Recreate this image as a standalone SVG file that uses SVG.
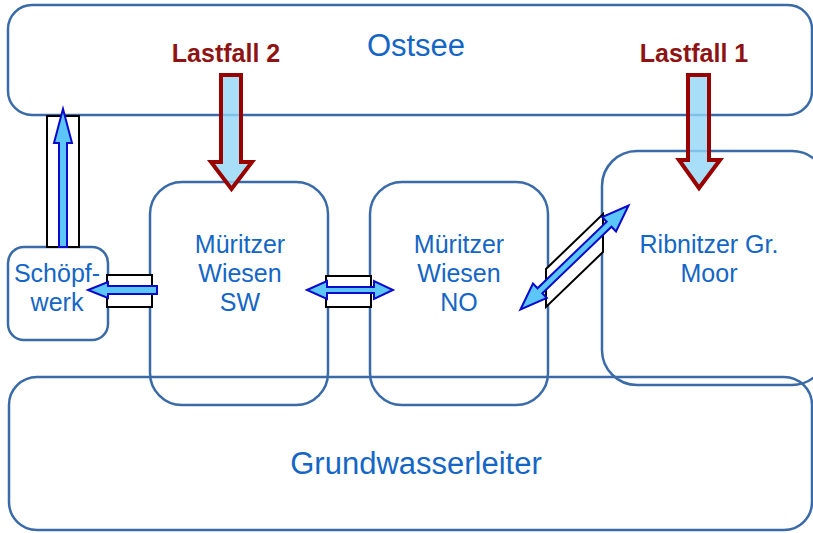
<svg xmlns="http://www.w3.org/2000/svg" width="813" height="533" viewBox="0 0 813 533">
  <style>
    .box { fill: none; stroke: #3A6BA8; stroke-width: 2.5; }
    .lbl { font-family: "Liberation Sans", Arial, sans-serif; fill: #1466C6; text-anchor: middle; }
    .load { font-family: "Liberation Sans", Arial, sans-serif; font-weight: bold; fill: #8E1414; text-anchor: middle; font-size: 25px; }
    .pipe { fill: #FFFFFF; stroke: #000000; stroke-width: 2; }
    .flow { fill: #5CC6F8; stroke: #0A0ACD; stroke-width: 2; stroke-linejoin: miter; }
    .loadArrow { fill: #94D6F8; fill-opacity: 0.8; stroke: #990000; stroke-width: 4; stroke-linejoin: miter; }
  </style>
  <rect width="813" height="533" fill="#FFFFFF"/>

  <!-- water bodies and storage compartments -->
  <g id="ostsee">
    <rect class="box" x="8" y="5" width="804" height="110" rx="24"/>
    <text class="lbl" x="416" y="56" font-size="31">Ostsee</text>
  </g>
  <g id="grundwasserleiter">
    <rect class="box" x="9" y="377" width="803" height="153" rx="28"/>
    <text class="lbl" x="416" y="474" font-size="31">Grundwasserleiter</text>
  </g>
  <g id="ribnitzer-moor">
    <rect class="box" x="602" y="151" width="225" height="234" rx="35"/>
    <text class="lbl" x="709" y="253" font-size="25">Ribnitzer Gr.</text>
    <text class="lbl" x="709" y="282" font-size="25">Moor</text>
  </g>
  <g id="wiesen-sw">
    <rect class="box" x="150" y="182" width="178" height="223" rx="32"/>
    <text class="lbl" x="240" y="253" font-size="25">Müritzer</text>
    <text class="lbl" x="240" y="282" font-size="25">Wiesen</text>
    <text class="lbl" x="240" y="311" font-size="25">SW</text>
  </g>
  <g id="wiesen-no">
    <rect class="box" x="370" y="182" width="178" height="223" rx="32"/>
    <text class="lbl" x="459" y="253" font-size="25">Müritzer</text>
    <text class="lbl" x="459" y="282" font-size="25">Wiesen</text>
    <text class="lbl" x="459" y="311" font-size="25">NO</text>
  </g>
  <g id="schoepfwerk">
    <rect class="box" x="8" y="247" width="100" height="93" rx="16"/>
    <text class="lbl" x="57" y="282" font-size="25">Schöpf-</text>
    <text class="lbl" x="57" y="311" font-size="25">werk</text>
  </g>

  <!-- load case labels -->
  <g id="lastfall-2">
    <text class="load" x="226" y="62">Lastfall 2</text>
  </g>
  <g id="lastfall-1">
    <text class="load" x="694" y="62">Lastfall 1</text>
  </g>

  <!-- connections: culverts and flow arrows -->
  <g id="connectors">
    <rect class="pipe" x="47" y="116" width="32" height="131"/>
    <path class="flow" d="M59,247 V143 H54 L63,109 L72,143 H67 V247 Z"/>

    <rect class="pipe" x="107" y="275" width="45" height="32"/>
    <path class="flow" d="M157,286 H108 V282 L88,290 L108,298 V294 H157 Z"/>

    <rect class="pipe" x="326" y="276" width="45" height="31"/>
    <path class="flow" d="M307,290 L327,281 V287 H374 V281 L393,290 L374,299 V293 H327 V299 Z"/>

    <path class="pipe" d="M546,269 L603,214 L603,252 L546,307 Z"/>
    <path class="flow" transform="translate(574.5,257.5) rotate(-43.9)" d="M-75,0 L-48,-10 V-3.5 H48 V-10 L75,0 L48,10 V3.5 H-48 V10 Z"/>

    <path class="loadArrow" d="M221,75 H241 V162 H252 L231.5,189 L211,162 H221 Z"/>
    <path class="loadArrow" d="M688,75 H709 V160 H720 L699,188 L679,160 H688 Z"/>
  </g>
</svg>
